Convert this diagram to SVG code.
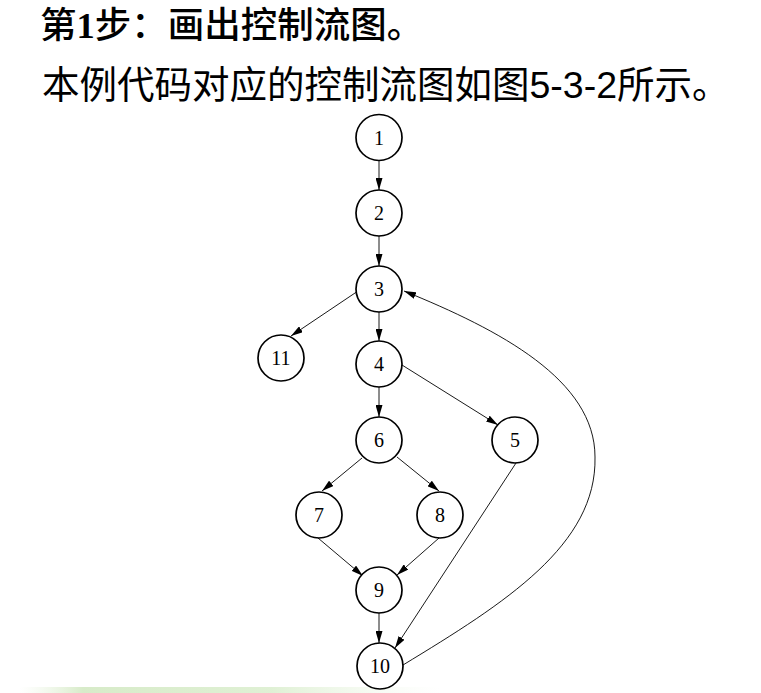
<svg xmlns="http://www.w3.org/2000/svg" width="761" height="693" viewBox="0 0 761 693">
  <style>
    .node circle { fill: #ffffff; stroke: #000000; stroke-width: 1.7; }
    .node text { font-family: "Liberation Serif", "DejaVu Serif", serif; font-size: 20px; text-anchor: middle; fill: #000000; }
    .edge { fill: none; stroke: #000000; stroke-width: 0.9; marker-end: url(#arrow); }
    .title { font-family: "Liberation Serif", "Noto Sans CJK SC", serif; font-size: 36.5px; font-weight: 500; fill: #000000; }
    .title .num { font-weight: bold; }
    .subtitle { font-family: "Liberation Sans", "Noto Sans CJK SC", sans-serif; font-size: 37.5px; fill: #000000; }
  </style>
  <defs>
    <marker id="arrow" markerUnits="userSpaceOnUse" viewBox="0 0 12 7" refX="12" refY="3.5" markerWidth="12" markerHeight="7" orient="auto">
      <path d="M0,0 L12,3.5 L0,7 Z" fill="#000000"/>
    </marker>
    <linearGradient id="green" x1="0" y1="0" x2="1" y2="0">
      <stop offset="0" stop-color="#e6f2dc" stop-opacity="0"/>
      <stop offset="0.15" stop-color="#d3e9c3" stop-opacity="0.9"/>
      <stop offset="0.6" stop-color="#dcefd0" stop-opacity="0.9"/>
      <stop offset="1" stop-color="#eef7e8" stop-opacity="0"/>
    </linearGradient>
  </defs>
  <rect x="0" y="0" width="761" height="693" fill="#ffffff"/>
  <rect x="20" y="687" width="420" height="6" fill="url(#green)"/>

  <text class="title" x="40" y="38">第<tspan class="num">1</tspan>步：画出控制流图。</text>
  <text class="subtitle" x="42" y="98">本例代码对应的控制流图如图5-3-2所示。</text>

  <g id="connectors">
    <line class="edge" x1="379" y1="160.5" x2="379" y2="190"/>
    <line class="edge" x1="379" y1="236" x2="379" y2="266"/>
    <line class="edge" x1="356.5" y1="292" x2="291" y2="336"/>
    <line class="edge" x1="379" y1="312" x2="379" y2="341"/>
    <line class="edge" x1="402" y1="365" x2="498" y2="425"/>
    <line class="edge" x1="379" y1="387" x2="379" y2="417"/>
    <line class="edge" x1="362" y1="458" x2="322" y2="491"/>
    <line class="edge" x1="397" y1="457" x2="439" y2="491"/>
    <line class="edge" x1="318" y1="538" x2="363" y2="576"/>
    <line class="edge" x1="439" y1="538" x2="397" y2="575"/>
    <line class="edge" x1="379" y1="613" x2="379" y2="643"/>
    <line class="edge" x1="516" y1="463" x2="395" y2="648"/>
    <path class="edge" d="M403,665 C505,603 597,545 595,457 C595,380 500,330 404,291"/>
  </g>

  <g id="node1" class="node"><circle cx="379" cy="137.5" r="23"/><text x="379" y="144.5">1</text></g>
  <g id="node2" class="node"><circle cx="379" cy="213" r="23"/><text x="379" y="220">2</text></g>
  <g id="node3" class="node"><circle cx="379" cy="289" r="23"/><text x="379" y="296">3</text></g>
  <g id="node11" class="node"><circle cx="281" cy="358" r="23"/><text x="281" y="365">11</text></g>
  <g id="node4" class="node"><circle cx="379" cy="364" r="23"/><text x="379" y="371">4</text></g>
  <g id="node6" class="node"><circle cx="379" cy="440" r="23"/><text x="379" y="447">6</text></g>
  <g id="node5" class="node"><circle cx="515" cy="440" r="23"/><text x="515" y="447">5</text></g>
  <g id="node7" class="node"><circle cx="319" cy="515" r="23"/><text x="319" y="522">7</text></g>
  <g id="node8" class="node"><circle cx="440" cy="515" r="23"/><text x="440" y="522">8</text></g>
  <g id="node9" class="node"><circle cx="379" cy="590" r="23"/><text x="379" y="597">9</text></g>
  <g id="node10" class="node"><circle cx="380" cy="666" r="23"/><text x="380" y="673">10</text></g>
</svg>
